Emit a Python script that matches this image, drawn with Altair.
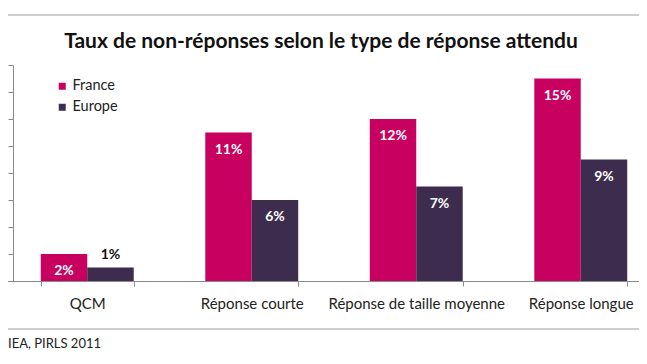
import altair as alt
import pandas as pd

categories = ["QCM", "Réponse courte", "Réponse de taille moyenne", "Réponse longue"]
series = ["France", "Europe"]
france = [2, 11, 12, 15]
europe = [1, 6, 7, 9]
y_ticks = [0, 2, 4, 6, 8, 10, 12, 14, 16]
title_text = ["Taux de non-réponses selon le type de réponse attendu"]
source_text = ["IEA, PIRLS 2011"]
colors = ["#C8005F", "#3D2C4E"]

rows = []
for i, c in enumerate(categories):
    rows.append({"cat": c, "serie": "France", "v": france[i]})
    rows.append({"cat": c, "serie": "Europe", "v": europe[i]})
df = pd.DataFrame(rows)

FONT = "Lato"
AX = "#8a8a8a"

x = alt.X(
    "cat:N", sort=categories,
    scale=alt.Scale(range=[-8, 650], paddingInner=0.435, paddingOuter=0.2175),
    axis=alt.Axis(title=None, labelAngle=0, tickBand="extent", tickSize=5,
                  labelPadding=10, domainColor=AX, tickColor=AX, labelFont=FONT,
                  labelFontSize=15, labelColor="#222"),
)
xo = alt.XOffset("serie:N", sort=series)
y = alt.Y(
    "v:Q", scale=alt.Scale(domain=[0, 16], nice=False),
    axis=alt.Axis(values=y_ticks, labels=False, title=None, grid=False,
                  tickSize=5, domainColor=AX, tickColor=AX),
)

base = alt.Chart(df).transform_calculate(lab="datum.v + '%'")

bars = base.mark_bar().encode(
    x=x, xOffset=xo, y=y,
    color=alt.Color(
        "serie:N", sort=series,
        scale=alt.Scale(domain=series, range=colors),
        legend=alt.Legend(title=None, orient="none", legendX=42, legendY=14,
                          symbolType="square", symbolSize=49, symbolStrokeWidth=0,
                          labelFont=FONT, labelFontSize=14.5, labelColor="#222",
                          rowPadding=6, labelOffset=3, padding=0),
    ),
)

inside = base.transform_filter("datum.v >= 2").mark_text(
    baseline="middle", dy=17, color="white", fontWeight="bold", font=FONT, fontSize=14
).encode(x=x, xOffset=xo, y=y, text="lab:N")

outside = base.transform_filter("datum.v < 2").mark_text(
    baseline="alphabetic", dy=-9, color="#111", fontWeight="bold", font=FONT, fontSize=14
).encode(x=x, xOffset=xo, y=y, text="lab:N")

one = pd.DataFrame({"k": [0]})
rule_top = alt.Chart(one).mark_rule(color="#bdbdbd", strokeWidth=1.5).encode(
    x=alt.value(-13), x2=alt.value(640), y=alt.value(-50))
rule_bot = alt.Chart(one).mark_rule(color="#bdbdbd", strokeWidth=1.5).encode(
    x=alt.value(-13), x2=alt.value(640), y=alt.value(264))

title = alt.Chart(pd.DataFrame({"t": title_text})).mark_text(
    align="center", baseline="alphabetic", font=FONT, fontSize=21,
    fontWeight="bold", color="#111"
).encode(x=alt.value(308), y=alt.value(-17), text="t:N")

source = alt.Chart(pd.DataFrame({"t": source_text})).mark_text(
    align="left", baseline="alphabetic", font=FONT, fontSize=13, color="#222"
).encode(x=alt.value(-5), y=alt.value(283), text="t:N")

chart = alt.layer(bars, inside, outside, rule_top, rule_bot, title, source).properties(
    width=626, height=216,
    autosize=alt.AutoSizeParams(type="none"),
    padding={"left": 5, "top": 57, "right": 0, "bottom": 70},
).configure_view(stroke=None)

chart.save("out.html", embed_options={"renderer": "svg", "actions": False})
